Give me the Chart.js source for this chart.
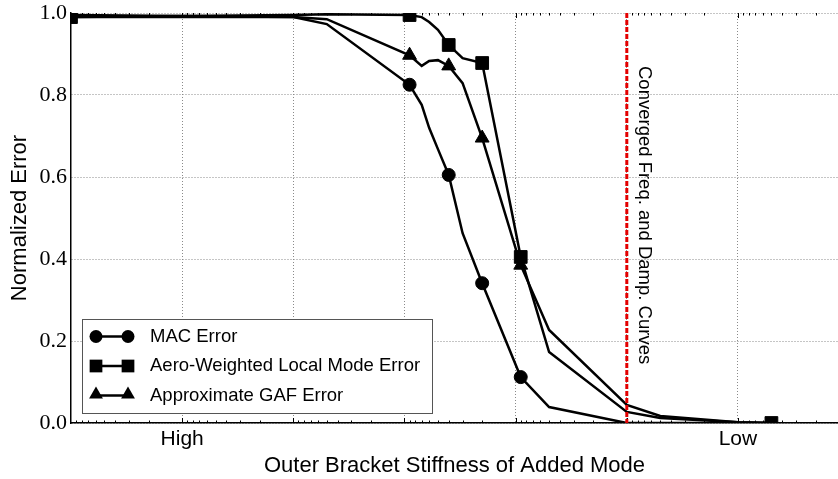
<!DOCTYPE html>
<html lang="en">
<head>
    <meta charset="UTF-8">
    <title>Normalized Error vs Outer Bracket Stiffness</title>
    <style>
        html, body { margin: 0; padding: 0; background: #fff; overflow: hidden; }
    </style>
</head>
<body>
    <canvas id="myChart" width="838" height="479"></canvas>
    <script src="https://cdn.jsdelivr.net/npm/chart.js"></script>
    <script>

    // stiffness of the added mode (log axis, high on the left)
    const stiffness = [1e6, 1e4, 5000, 900, 700, 600, 500, 400, 300, 200, 90, 50, 10, 5, 1, 0.5];

    const macError  = [0.99, 0.99, 0.973, 0.825, 0.776, 0.72, 0.668, 0.605, 0.463, 0.341, 0.112, 0.039, 0, 0, 0, 0];
    const aeroError = [0.99, 0.995, 0.997, 0.995, 0.99, 0.978, 0.959, 0.922, 0.89, 0.878, 0.405, 0.173, 0.027, 0.012, 0.002, 0];
    const gafError  = [0.995, 0.99, 0.985, 0.897, 0.871, 0.883, 0.885, 0.871, 0.829, 0.695, 0.385, 0.227, 0.044, 0.017, 0.002, 0];

    // which stiffness values carry a marker
    const macMarked  = [900, 400, 200, 90];
    const aeroMarked = [1e6, 900, 400, 200, 90, 0.5];
    const gafMarked  = [900, 400, 200, 90];

    const seriesNames = ['MAC Error', 'Aero-Weighted Local Mode Error', 'Approximate GAF Error'];

    const xTickValues = [1e5, 1e4, 1e3, 100, 10, 1];
    const xTickLabels = ['High', '', '', '', '', 'Low'];
    const yTickValues = [0, 0.2, 0.4, 0.6, 0.8, 1.0];

    const convergedStiffness = 10;
    const convergedLabel = 'Converged Freq. and Damp. Curves';

    const SANS = '"Liberation Sans", Arial, sans-serif';
    const SERIF = '"Liberation Serif", "Times New Roman", serif';

    function makeSet(label, ys, marked, style, r) {
        return {
            label: label,
            data: stiffness.map((x, i) => ({ x: x, y: ys[i] })),
            borderColor: '#000',
            borderWidth: 2.5,
            backgroundColor: '#000',
            pointStyle: style,
            pointBackgroundColor: '#000',
            pointBorderColor: '#000',
            pointBorderWidth: 1,
            pointRadius: ctx => marked.includes(stiffness[ctx.dataIndex]) ? r : 0,
            pointHoverRadius: ctx => marked.includes(stiffness[ctx.dataIndex]) ? r : 0,
            tension: 0,
            fill: false
        };
    }

    function marker(ctx, style, x, y, r) {
        ctx.beginPath();
        if (style === 'circle') {
            ctx.arc(x, y, r, 0, Math.PI * 2);
        } else if (style === 'rect') {
            const s = r * Math.SQRT1_2;
            ctx.rect(x - s, y - s, 2 * s, 2 * s);
        } else {
            ctx.moveTo(x, y - r);
            ctx.lineTo(x + r * 0.866, y + r * 0.5);
            ctx.lineTo(x - r * 0.866, y + r * 0.5);
            ctx.closePath();
        }
        ctx.fill();
    }

    // extra drawing: minor log ticks, red converged line, rotated note, legend box
    const extras = {
        id: 'extras',
        afterDatasetsDraw(chart) {
            const ctx = chart.ctx;
            const area = chart.chartArea;
            const xs = chart.scales.x;

            ctx.save();
            // ticks inside the frame, top and bottom
            ctx.strokeStyle = '#000';
            ctx.lineWidth = 1;
            for (let d = -1; d <= 5; d++) {
                for (let k = 1; k <= 9; k++) {
                    const v = k * Math.pow(10, d);
                    if (v < xs.min || v > xs.max) continue;
                    const px = Math.round(xs.getPixelForValue(v)) + 0.5;
                    const len = k === 1 ? 5 : 2.5;
                    ctx.beginPath();
                    ctx.moveTo(px, area.bottom);
                    ctx.lineTo(px, area.bottom - len);
                    ctx.moveTo(px, area.top);
                    ctx.lineTo(px, area.top + len);
                    ctx.stroke();
                }
            }

            // converged line
            const cx = xs.getPixelForValue(convergedStiffness);
            ctx.strokeStyle = '#e30000';
            ctx.lineWidth = 3;
            ctx.setLineDash([5, 2]);
            ctx.beginPath();
            ctx.moveTo(cx, area.top);
            ctx.lineTo(cx, area.bottom);
            ctx.stroke();
            ctx.setLineDash([]);

            ctx.fillStyle = '#000';
            ctx.font = '18.5px ' + SANS;
            ctx.textAlign = 'left';
            ctx.textBaseline = 'middle';
            ctx.translate(cx + 17, area.top + 53);
            ctx.rotate(Math.PI / 2);
            ctx.fillText(convergedLabel, 0, 0);
            ctx.restore();

            // legend
            ctx.save();
            const bx = 82.5, by = 319.5, bw = 350, bh = 94;
            ctx.fillStyle = '#fff';
            ctx.fillRect(bx, by, bw, bh);
            ctx.strokeStyle = '#555';
            ctx.lineWidth = 1;
            ctx.strokeRect(bx, by, bw, bh);
            ctx.font = '18.5px ' + SANS;
            ctx.textBaseline = 'middle';
            ctx.textAlign = 'left';
            chart.data.datasets.forEach((ds, i) => {
                const y = 336.5 + i * 29.5;
                const r = i === 0 ? 6.5 : (i === 1 ? 9 : 8);
                ctx.strokeStyle = '#000';
                ctx.lineWidth = 2.5;
                ctx.beginPath();
                ctx.moveTo(96, y);
                ctx.lineTo(128, y);
                ctx.stroke();
                ctx.fillStyle = '#000';
                const ty = ds.pointStyle === 'triangle' ? y - 1 : y;
                marker(ctx, ds.pointStyle, 96, ty, r);
                marker(ctx, ds.pointStyle, 128, ty, r);
                ctx.fillText(ds.label, 150, y);
            });
            ctx.restore();
        }
    };

    const canvas = document.getElementById('myChart');

    const myChart = new Chart(canvas, {
        type: 'line',
        data: {
            datasets: [
                makeSet(seriesNames[0], macError, macMarked, 'circle', 6.5),
                makeSet(seriesNames[1], aeroError, aeroMarked, 'rect', 9),
                makeSet(seriesNames[2], gafError, gafMarked, 'triangle', 8)
            ]
        },
        options: {
            responsive: false,
            animation: false,
            devicePixelRatio: 1,
            layout: { autoPadding: false, padding: { top: 13, right: 0, left: 0, bottom: 0 } },
            plugins: {
                legend: { display: false },
                tooltip: { enabled: false }
            },
            scales: {
                x: {
                    type: 'logarithmic',
                    reverse: true,
                    min: Math.pow(10, -0.9),
                    max: 1e6,
                    afterBuildTicks: axis => {
                        axis.ticks = xTickValues.map(v => ({ value: v }));
                    },
                    afterFit: axis => {
                        axis.height = 56;
                        axis.paddingLeft = 0;
                        axis.paddingRight = 0;
                    },
                    ticks: {
                        autoSkip: false,
                        maxRotation: 0,
                        padding: 4,
                        color: '#000',
                        font: { family: SANS, size: 21 },
                        callback: value => {
                            const i = xTickValues.indexOf(value);
                            return i >= 0 ? xTickLabels[i] : '';
                        }
                    },
                    grid: { color: '#8a8a8a', lineWidth: 1, drawTicks: false },
                    border: { color: '#000', width: 1.5, dash: [1, 2] },
                    title: {
                        display: true,
                        text: 'Outer Bracket Stiffness of Added Mode',
                        color: '#000',
                        font: { family: SANS, size: 22 },
                        padding: { top: 0, bottom: 0 }
                    }
                },
                y: {
                    min: 0,
                    max: 1,
                    afterBuildTicks: axis => {
                        axis.ticks = yTickValues.map(v => ({ value: v }));
                    },
                    afterFit: axis => {
                        axis.width = 71;
                        axis.paddingTop = 0;
                        axis.paddingBottom = 0;
                    },
                    ticks: {
                        padding: 4,
                        color: '#000',
                        font: { family: SERIF, size: 22 },
                        callback: value => value.toFixed(1)
                    },
                    grid: { color: '#8a8a8a', lineWidth: 1, drawTicks: false },
                    border: { color: '#000', width: 1.5, dash: [1, 2] },
                    title: {
                        display: true,
                        text: 'Normalized Error',
                        color: '#000',
                        font: { family: SANS, size: 22 },
                        padding: { top: 7, bottom: 0 }
                    }
                }
            }
        },
        plugins: [extras]
    });
    </script>
</body>
</html>
